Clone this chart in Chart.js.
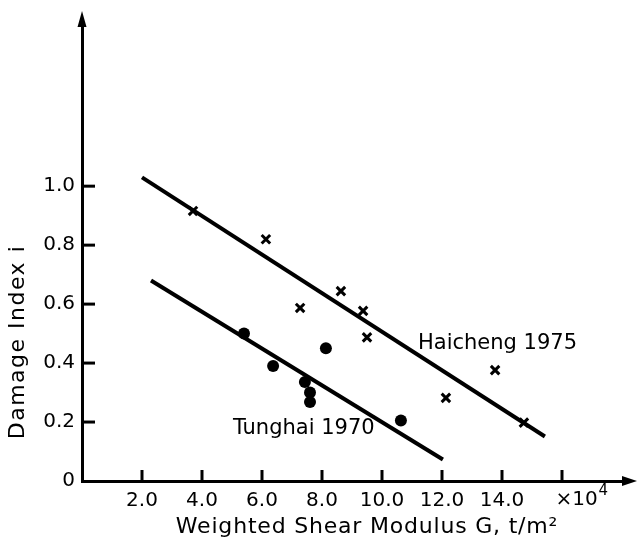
<!DOCTYPE html>
<html>
<head>
<meta charset="utf-8">
<script src="https://cdn.jsdelivr.net/npm/chart.js@4.4.0/dist/chart.umd.min.js"></script>
<style>
  body { margin: 0; background: #fff; }
  canvas { display: block; }
</style>
</head>
<body>
<canvas id="myChart" width="638" height="546"></canvas>
<script>
// data (G in 10^4 t/m^2, damage index i)
const haichengG = [3.7, 6.13, 7.27, 8.63, 9.37, 9.5, 12.13, 13.77, 14.73];
const haichengI = [0.916, 0.82, 0.587, 0.644, 0.577, 0.487, 0.282, 0.376, 0.198];
const tunghaiG = [5.4, 6.37, 7.43, 7.6, 7.6, 8.13, 10.63];
const tunghaiI = [0.5, 0.39, 0.336, 0.3, 0.268, 0.45, 0.205];

// fitted lines, end points
const haichengFitG = [2.0, 15.43];
const haichengFitI = [1.03, 0.151];
const tunghaiFitG = [2.3, 12.03];
const tunghaiFitI = [0.68, 0.073];

// tick labels
const xTickValues = [2, 4, 6, 8, 10, 12, 14, 16];
const xTickLabels = ["2.0", "4.0", "6.0", "8.0", "10.0", "12.0", "14.0", ""];
const yTickValues = [0, 0.2, 0.4, 0.6, 0.8, 1.0];
const yTickLabels = ["0", "0.2", "0.4", "0.6", "0.8", "1.0"];

const FONT = "'DejaVu Sans', sans-serif";

function toPoints(xs, ys) {
  return xs.map((v, i) => ({ x: v, y: ys[i] }));
}

// inward ticks, arrow heads, axis titles and the text labels inside the plot
const overlay = {
  id: "overlay",
  afterDraw(chart) {
    const { ctx, chartArea, scales } = chart;
    const x = scales.x;
    const y = scales.y;
    ctx.save();
    ctx.strokeStyle = "#000";
    ctx.fillStyle = "#000";
    ctx.lineWidth = 3;

    yTickValues.forEach((v) => {
      if (v === 0) return;
      let py = y.getPixelForValue(v);
      ctx.beginPath();
      ctx.moveTo(chartArea.left, py);
      ctx.lineTo(chartArea.left + 13, py);
      ctx.stroke();
    });
    xTickValues.forEach((v) => {
      let px = x.getPixelForValue(v);
      ctx.beginPath();
      ctx.moveTo(px, chartArea.bottom);
      ctx.lineTo(px, chartArea.bottom - 11);
      ctx.stroke();
    });

    // arrow heads
    let l = chartArea.left, t = chartArea.top, r = chartArea.right, b = chartArea.bottom;
    ctx.beginPath();
    ctx.moveTo(l, t - 8);
    ctx.lineTo(l - 4.5, t + 8);
    ctx.lineTo(l + 4.5, t + 8);
    ctx.closePath();
    ctx.fill();
    ctx.beginPath();
    ctx.moveTo(r + 9, b);
    ctx.lineTo(r - 6, b - 5);
    ctx.lineTo(r - 6, b + 5);
    ctx.closePath();
    ctx.fill();

    // labels of the two lines
    ctx.font = "21px " + FONT;
    ctx.textBaseline = "middle";
    ctx.textAlign = "left";
    ctx.fillText("Haicheng 1975", x.getPixelForValue(11.2), y.getPixelForValue(0.466));
    ctx.fillText("Tunghai 1970", x.getPixelForValue(5.03), y.getPixelForValue(0.178));

    // x10^4 multiplier
    let mx = x.getPixelForValue(15.78);
    ctx.font = "20px " + FONT;
    ctx.fillText("×10", mx, b + 19);
    let w = ctx.measureText("×10").width;
    ctx.font = "15px " + FONT;
    ctx.fillText("4", mx + w + 1, b + 10);

    // axis titles
    ctx.font = "22px " + FONT;
    ctx.letterSpacing = "0.8px";
    ctx.textAlign = "center";
    ctx.fillText("Weighted Shear Modulus G, t/m²", 367, 527);

    ctx.letterSpacing = "1.5px";
    ctx.translate(18, 342);
    ctx.rotate(-Math.PI / 2);
    ctx.fillText("Damage Index i", 0, 0);
    ctx.restore();
  },
};

const ctx = document.getElementById("myChart");

new Chart(ctx, {
  type: "scatter",
  data: {
    datasets: [
      {
        label: "Haicheng 1975",
        data: toPoints(haichengG, haichengI),
        pointStyle: "crossRot",
        pointRadius: 6,
        borderWidth: 3,
        borderColor: "#000",
        backgroundColor: "#000",
      },
      {
        label: "Tunghai 1970",
        data: toPoints(tunghaiG, tunghaiI),
        pointStyle: "circle",
        pointRadius: 6,
        borderWidth: 0,
        borderColor: "#000",
        backgroundColor: "#000",
      },
      {
        label: "Haicheng fit",
        data: toPoints(haichengFitG, haichengFitI),
        showLine: true,
        pointRadius: 0,
        borderWidth: 4,
        borderColor: "#000",
      },
      {
        label: "Tunghai fit",
        data: toPoints(tunghaiFitG, tunghaiFitI),
        showLine: true,
        pointRadius: 0,
        borderWidth: 4,
        borderColor: "#000",
      },
    ],
  },
  options: {
    responsive: false,
    animation: false,
    devicePixelRatio: 1,
    layout: { padding: { top: 14, right: 10, left: 0, bottom: 0 } },
    plugins: {
      legend: { display: false },
      tooltip: { enabled: false },
    },
    scales: {
      x: {
        type: "linear",
        min: 0,
        max: 18.2,
        afterFit: (scale) => {
          scale.height = 65;
        },
        afterBuildTicks: (scale) => {
          scale.ticks = xTickValues.map((v) => ({ value: v }));
        },
        ticks: {
          padding: 8,
          color: "#000",
          font: { family: FONT, size: 20 },
          maxRotation: 0,
          autoSkip: false,
          callback: (value, index) => xTickLabels[index],
        },
        grid: { display: false, drawTicks: false },
        border: { display: true, color: "#000", width: 3 },
      },
      y: {
        type: "linear",
        min: 0,
        max: 1.567,
        afterFit: (scale) => {
          scale.width = 82;
        },
        afterBuildTicks: (scale) => {
          scale.ticks = yTickValues.map((v) => ({ value: v }));
        },
        ticks: {
          padding: 7,
          color: "#000",
          font: { family: FONT, size: 20 },
          autoSkip: false,
          callback: (value, index) => yTickLabels[index],
        },
        grid: { display: false, drawTicks: false },
        border: { display: true, color: "#000", width: 3 },
      },
    },
  },
  plugins: [overlay],
});
</script>
</body>
</html>
